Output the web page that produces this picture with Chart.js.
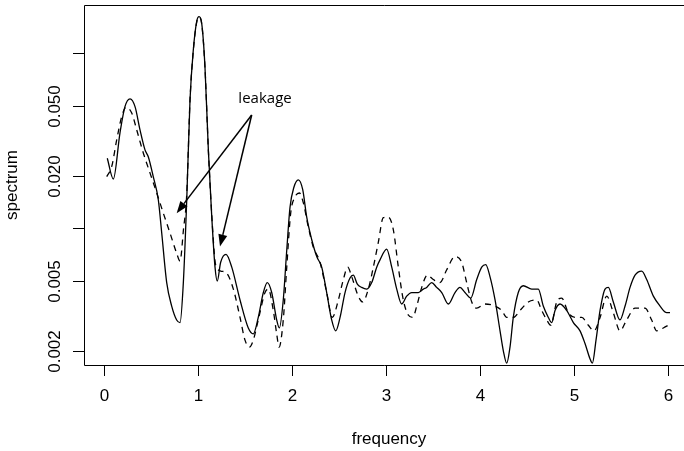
<!DOCTYPE html>
<html>
<head>
<meta charset="utf-8">
<script src="https://cdn.jsdelivr.net/npm/chart.js@4.4.1/dist/chart.umd.min.js"></script>
<style>
  html, body { margin: 0; padding: 0; background: #fff; }
  #wrap { width: 684px; height: 451px; }
</style>
</head>
<body>
<div id="wrap"><canvas id="spec" width="684" height="451"></canvas></div>
<script>
// solid curve (frequency, spectrum)
const freqSolid = [0.035,0.099,0.170,0.223,0.277,0.330,0.383,0.436,0.471,0.524,
  0.578,0.614,0.667,0.720,0.773,0.809,0.844,0.880,0.915,0.950,
  0.986,1.011,1.039,1.074,1.110,1.146,1.181,1.205,1.241,1.298,
  1.359,1.447,1.535,1.588,1.641,1.695,1.737,1.784,1.837,1.865,
  1.907,1.944,1.979,2.021,2.067,2.114,2.156,2.210,2.263,2.316,
  2.369,2.422,2.465,2.511,2.564,2.617,2.652,2.695,2.741,2.795,
  2.848,2.901,2.936,3.007,3.061,3.114,3.167,3.220,3.273,3.344,
  3.397,3.433,3.486,3.539,3.593,3.663,3.734,3.787,3.840,3.901,
  3.965,4.018,4.061,4.106,4.160,4.213,4.248,4.284,4.319,4.354,
  4.407,4.461,4.550,4.620,4.673,4.727,4.763,4.798,4.851,4.922,
  4.993,5.064,5.117,5.170,5.195,5.234,5.277,5.330,5.365,5.418,
  5.489,5.543,5.596,5.649,5.720,5.773,5.844,5.915,5.986,6.021];
const specSolid = [0.0251,0.0191,0.0350,0.0494,0.0547,0.0494,0.0364,0.0280,0.0256,0.0197,
  0.0145,0.0094,0.0049,0.0036,0.0030,0.0029,0.0049,0.0145,0.0540,0.104,
  0.151,0.161,0.148,0.0835,0.0280,0.0117,0.0060,0.0050,0.0064,0.0071,
  0.0060,0.0039,0.0027,0.0025,0.0031,0.0043,0.0049,0.0043,0.0030,0.0027,
  0.0039,0.0075,0.0132,0.0172,0.0189,0.0166,0.0116,0.0086,0.0069,0.0060,
  0.0043,0.0030,0.0026,0.0031,0.0043,0.0052,0.0054,0.0048,0.0046,0.0045,
  0.0049,0.0060,0.0066,0.0076,0.0060,0.0045,0.0037,0.0041,0.0043,0.0043,
  0.0045,0.0046,0.0049,0.0046,0.0043,0.0037,0.0043,0.0046,0.0043,0.0040,
  0.0051,0.0060,0.0062,0.0053,0.0039,0.0026,0.0020,0.0017,0.0021,0.0031,
  0.0043,0.0047,0.0045,0.0045,0.0036,0.0031,0.0029,0.0034,0.0037,0.0034,
  0.0029,0.0026,0.0022,0.0018,0.0017,0.0023,0.0034,0.0045,0.0046,0.0038,
  0.0030,0.0036,0.0046,0.0054,0.0057,0.0051,0.0041,0.0036,0.0033,0.0033];

// dashed curve
const freqDashed = [0.029,0.082,0.135,0.188,0.234,0.295,0.348,0.418,0.489,0.561,
  0.631,0.702,0.773,0.809,0.845,0.880,0.915,0.950,0.986,1.011,
  1.039,1.074,1.110,1.146,1.181,1.205,1.241,1.298,1.376,1.447,
  1.500,1.546,1.588,1.641,1.713,1.748,1.801,1.837,1.862,1.907,
  1.944,1.986,2.032,2.078,2.120,2.173,2.227,2.298,2.369,2.429,
  2.493,2.546,2.593,2.635,2.705,2.752,2.812,2.865,2.918,2.971,
  3.024,3.078,3.131,3.184,3.237,3.284,3.327,3.380,3.439,3.503,
  3.574,3.646,3.734,3.805,3.858,3.912,3.965,4.053,4.160,4.231,
  4.284,4.354,4.426,4.514,4.603,4.656,4.710,4.752,4.816,4.869,
  4.939,5.011,5.082,5.152,5.213,5.277,5.348,5.418,5.489,5.560,
  5.649,5.755,5.826,5.879,5.950,6.003];
const specDashed = [0.0197,0.0225,0.0319,0.0433,0.0490,0.0455,0.0364,0.0269,0.0207,0.0159,
  0.0122,0.0094,0.0072,0.0065,0.0098,0.0156,0.054,0.103,0.150,0.160,
  0.147,0.083,0.028,0.0120,0.0065,0.0059,0.0057,0.0056,0.0045,0.0031,
  0.0023,0.0021,0.0023,0.0030,0.0043,0.0045,0.0034,0.0025,0.0021,0.0030,
  0.0060,0.0122,0.0151,0.0159,0.0140,0.0102,0.0078,0.0064,0.0043,0.0031,
  0.0039,0.0051,0.0060,0.0053,0.0041,0.0038,0.0045,0.0060,0.0083,0.0115,
  0.0116,0.0098,0.0060,0.0039,0.0032,0.0031,0.0036,0.0046,0.0054,0.0051,
  0.0049,0.0058,0.0069,0.0064,0.0049,0.0038,0.0035,0.0037,0.0036,0.0034,
  0.0031,0.0031,0.0034,0.0038,0.0039,0.0034,0.0030,0.0028,0.0038,0.0040,
  0.0033,0.0031,0.0031,0.0028,0.0026,0.0031,0.0041,0.0033,0.0026,0.0030,
  0.0035,0.0035,0.0030,0.0026,0.0027,0.0028];

// axes
const xTicks = [0, 1, 2, 3, 4, 5, 6];
const yTicks = [0.002, 0.005, 0.01, 0.02, 0.05, 0.1];
const yTickLabels = ['0.002', '0.005', '', '0.020', '0.050', ''];

// "leakage" note: text position, arrow start and arrow tips (frequency, spectrum)
const noteText = [1.713, 0.0547];
const arrowFrom = [1.571, 0.0443];
const arrowTips = [[0.773, 0.0122], [1.234, 0.00787]];

const FONT = '"Liberation Sans", Arial, Helvetica, sans-serif';

function pts(xs, ys) {
    return xs.map((f, i) => ({ x: f, y: ys[i] }));
}

const rAxes = {
    id: 'rAxes',
    afterDraw(chart) {
        const { ctx, chartArea: a, scales: { x, y } } = chart;
        ctx.save();
        ctx.strokeStyle = '#000';
        ctx.fillStyle = '#000';
        ctx.lineWidth = 1;

        // box - right side runs off the picture
        ctx.beginPath();
        ctx.moveTo(a.right, a.top + 0.5);
        ctx.lineTo(a.left + 0.5, a.top + 0.5);
        ctx.lineTo(a.left + 0.5, a.bottom + 0.5);
        ctx.lineTo(a.right, a.bottom + 0.5);
        ctx.stroke();

        ctx.font = '17px ' + FONT;
        ctx.textAlign = 'center';
        ctx.textBaseline = 'middle';

        xTicks.forEach(v => {
            const px = Math.round(x.getPixelForValue(v)) + 0.5;
            ctx.beginPath();
            ctx.moveTo(px, a.bottom);
            ctx.lineTo(px, a.bottom + 11);
            ctx.stroke();
            ctx.fillText(String(v), px, a.bottom + 31);
        });

        yTicks.forEach((v, i) => {
            const py = Math.round(y.getPixelForValue(v)) + 0.5;
            ctx.beginPath();
            ctx.moveTo(a.left, py);
            ctx.lineTo(a.left - 11, py);
            ctx.stroke();
            if (yTickLabels[i]) {
                ctx.save();
                ctx.translate(a.left - 29, py);
                ctx.rotate(-Math.PI / 2);
                ctx.fillText(yTickLabels[i], 0, 0);
                ctx.restore();
            }
        });

        // axis titles
        ctx.fillText('frequency', 389, a.bottom + 74);
        ctx.save();
        ctx.translate(12, (a.top + a.bottom) / 2);
        ctx.rotate(-Math.PI / 2);
        ctx.fillText('spectrum', 0, 0);
        ctx.restore();

        // leakage note with two arrows
        ctx.font = '15px "Open Sans", "Noto Sans", sans-serif';
        ctx.fillText('leakage', x.getPixelForValue(noteText[0]), y.getPixelForValue(noteText[1]));
        const sx = x.getPixelForValue(arrowFrom[0]);
        const sy = y.getPixelForValue(arrowFrom[1]);
        ctx.lineWidth = 1.5;
        arrowTips.forEach(t => {
            const tx = x.getPixelForValue(t[0]);
            const ty = y.getPixelForValue(t[1]);
            const ang = Math.atan2(ty - sy, tx - sx);
            const hl = 12, hw = 4.5;
            const bx = tx - hl * Math.cos(ang), by = ty - hl * Math.sin(ang);
            ctx.beginPath();
            ctx.moveTo(sx, sy);
            ctx.lineTo(bx, by);
            ctx.stroke();
            ctx.beginPath();
            ctx.moveTo(tx, ty);
            ctx.lineTo(bx + hw * Math.sin(ang), by - hw * Math.cos(ang));
            ctx.lineTo(bx - hw * Math.sin(ang), by + hw * Math.cos(ang));
            ctx.closePath();
            ctx.fill();
        });
        ctx.restore();
    }
};

new Chart(document.getElementById('spec'), {
    type: 'line',
    data: {
        datasets: [
            {
                label: 'solid',
                data: pts(freqSolid, specSolid),
                borderColor: '#000',
                borderWidth: 1.3,
                pointRadius: 0,
                cubicInterpolationMode: 'monotone'
            },
            {
                label: 'dashed',
                data: pts(freqDashed, specDashed),
                borderColor: '#000',
                borderWidth: 1.3,
                borderDash: [6, 5],
                pointRadius: 0,
                cubicInterpolationMode: 'monotone'
            }
        ]
    },
    options: {
        responsive: false,
        animation: false,
        devicePixelRatio: 1,
        layout: { padding: { left: 84, top: 5, right: 0, bottom: 86 } },
        scales: {
            x: { type: 'linear', display: false, min: -0.2128, max: 6.170, bounds: 'data' },
            y: { type: 'logarithmic', display: false, min: 0.00166, max: 0.1878, bounds: 'data' }
        },
        plugins: {
            legend: { display: false },
            tooltip: { enabled: false }
        }
    },
    plugins: [rAxes]
});
</script>
</body>
</html>
